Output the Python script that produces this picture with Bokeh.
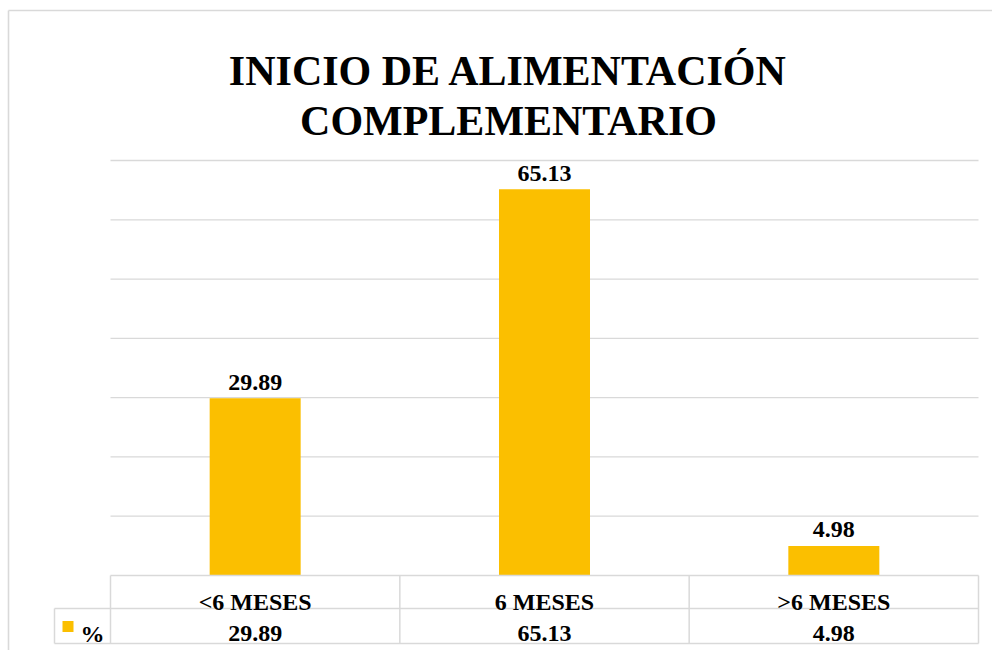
from bokeh.plotting import figure
from bokeh.models import Range1d
from bokeh.core.properties import value
from bokeh.embed import file_html
from bokeh.resources import INLINE

# ---------------- data ----------------
categories = ["<6 MESES", "6 MESES", ">6 MESES"]
values = [29.89, 65.13, 4.98]
value_labels = ["29.89", "65.13", "4.98"]
series_name = "%"
title_lines = ["INICIO DE ALIMENTACIÓN", "COMPLEMENTARIO"]
grid_ticks = [10, 20, 30, 40, 50, 60, 70]

# ---------------- layout (pixels) ----------------
CANVAS_W, CANVAS_H = 992, 650
AREA_L, AREA_R = 110, 978            # plot area horizontal extent
Y0_PX, YMAX_PX, YMAX = 575, 160, 70  # baseline, top gridline
ppx = (AREA_R - AREA_L) / len(categories)
ppy = (Y0_PX - YMAX_PX) / YMAX


def dx(px):
    return (px - AREA_L) / ppx


def dy(py):
    return (Y0_PX - py) / ppy


FONT = value("Liberation Serif")
GOLD = "#FBBF00"
LINE = "#d9d9d9"

p = figure(width=CANVAS_W, height=CANVAS_H,
           x_range=Range1d(dx(0), dx(CANVAS_W)),
           y_range=Range1d(dy(CANVAS_H), dy(0)),
           output_backend="svg", toolbar_location=None,
           min_border=0)
p.axis.visible = False
p.grid.visible = False
p.outline_line_color = None
p.background_fill_color = "white"
p.border_fill_color = "white"

n = len(categories)
xs = [i + 0.5 for i in range(n)]

# chart border (left and top edges)
p.segment(x0=[dx(8), dx(8)], x1=[dx(8), dx(CANVAS_W)], y0=[dy(10), dy(10)],
          y1=[dy(CANVAS_H), dy(10)], line_color=LINE, line_width=1.6)

# gridlines
p.segment(x0=[0] * len(grid_ticks), x1=[n] * len(grid_ticks),
          y0=grid_ticks, y1=grid_ticks, line_color=LINE, line_width=1.3)

# bars
p.vbar(x=xs, top=values, bottom=0, width=91 / ppx, fill_color=GOLD, line_color=None)

# value labels
p.text(x=xs, y=values, text=value_labels, text_font=FONT, text_font_style="bold",
       text_font_size="24px", text_align="center", text_baseline="alphabetic",
       y_offset=-16, text_color="black")

# title
p.text(x=[dx(508)] * 2, y=[dy(70), dy(120)], text=title_lines, text_font=FONT,
       text_font_style="bold", text_font_size="42px", text_align="center",
       text_baseline="alphabetic", text_color="black")

# data table
row_mid = dy(608)
row_bot = dy(643)
left_col = dx(54)
p.segment(x0=[0, left_col, left_col], x1=[n, n, n], y0=[0, row_mid, row_bot],
          y1=[0, row_mid, row_bot], line_color=LINE, line_width=1.5)
p.segment(x0=list(range(n + 1)), x1=list(range(n + 1)), y0=[0] * (n + 1),
          y1=[row_bot] * (n + 1), line_color=LINE, line_width=1.5)
p.segment(x0=[left_col], x1=[left_col], y0=[row_mid], y1=[row_bot],
          line_color=LINE, line_width=1.5)

p.text(x=xs, y=[dy(601)] * n, text=categories, text_font=FONT, text_font_style="bold",
       text_font_size="24px", text_align="center", text_baseline="alphabetic",
       text_color="black")
p.text(x=xs, y=[dy(633)] * n, text=value_labels, text_font=FONT, text_font_style="bold",
       text_font_size="24px", text_align="center", text_baseline="alphabetic",
       text_color="black")

# legend key
p.scatter(x=[dx(67.5)], y=[dy(626)], marker="square", size=11, fill_color=GOLD,
          line_color=None)
p.text(x=[dx(80)], y=[dy(633)], text=[series_name], text_font=FONT,
       text_font_style="bold", text_font_size="24px", text_align="left",
       text_baseline="alphabetic", text_color="black")

open("out.html", "w").write(file_html(p, INLINE))
